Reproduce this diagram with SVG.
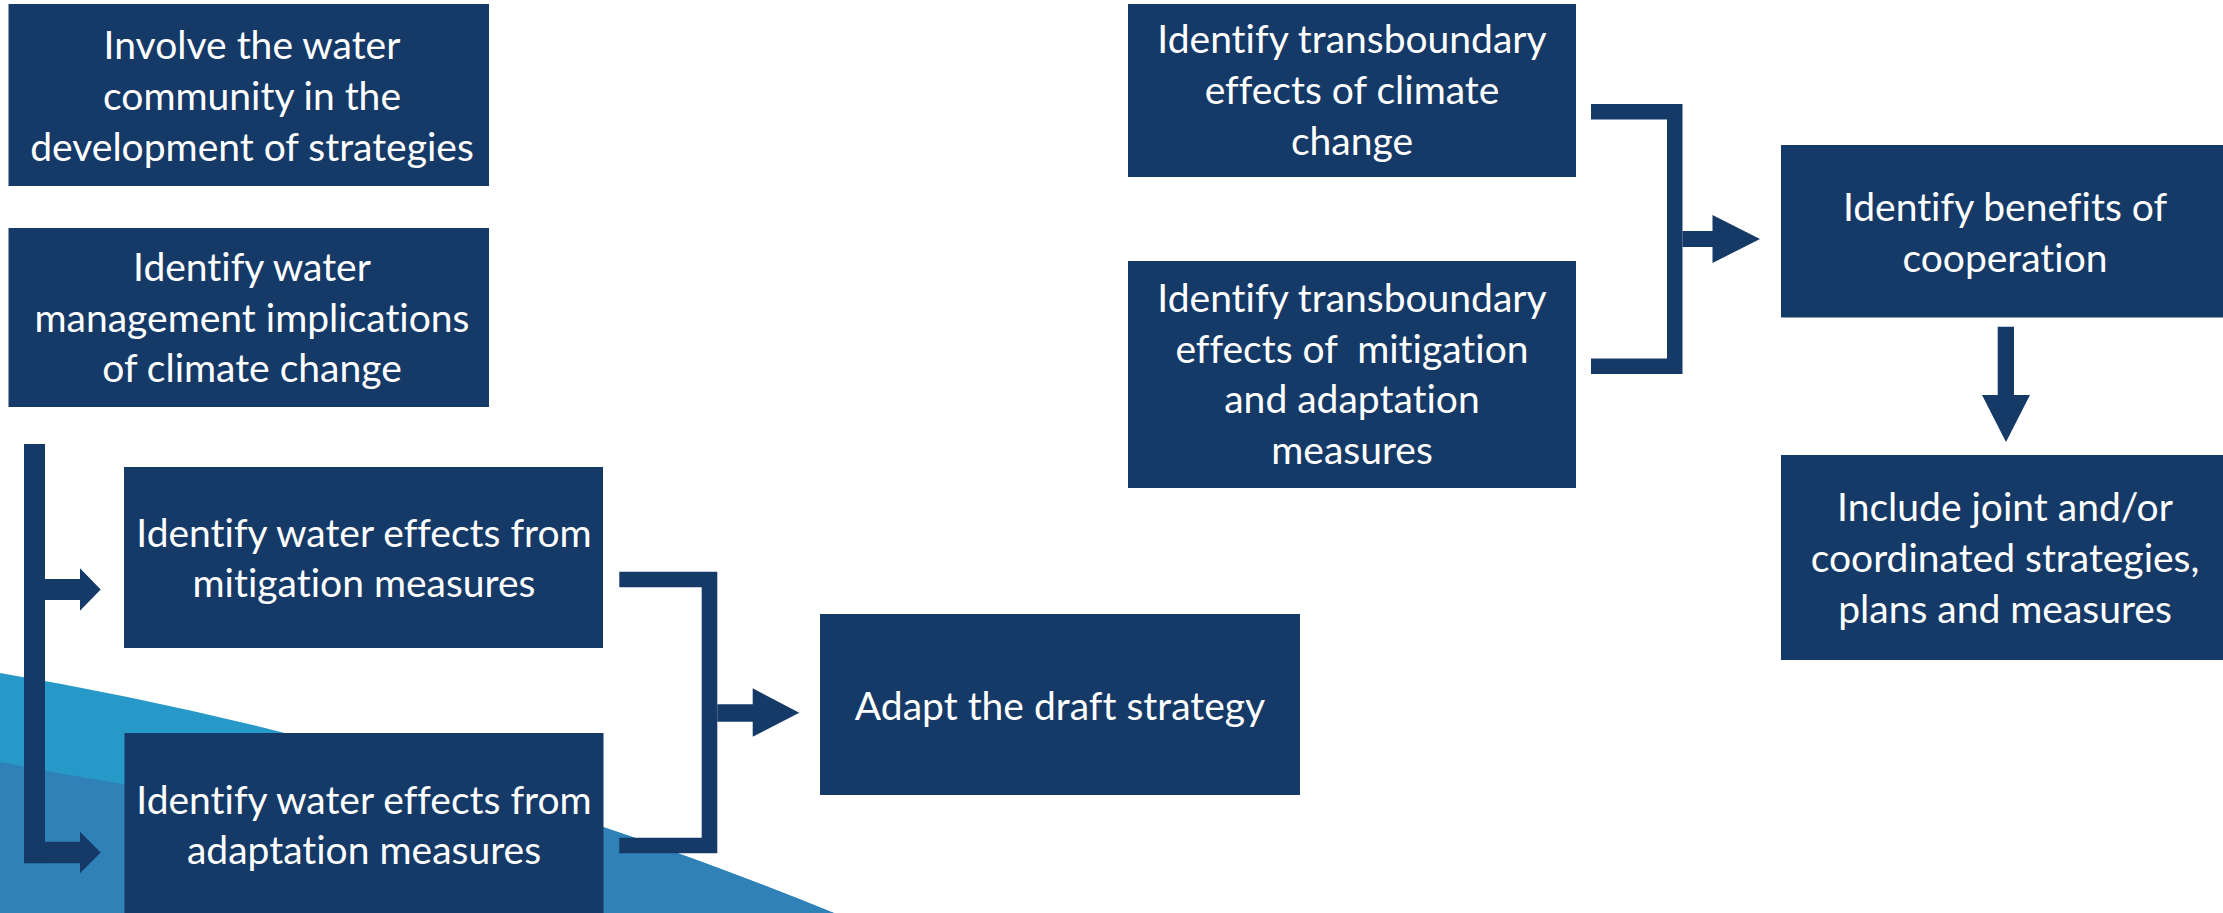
<svg xmlns="http://www.w3.org/2000/svg" width="2223" height="913" viewBox="0 0 2223 913">
  <style>
    .box { fill: #163a67; }
    .lbl { fill: #ffffff; font-family: "Lato", "Liberation Sans", sans-serif; font-size: 39px; text-anchor: middle; font-variant-ligatures: none; }
    .con { fill: #163a67; }
  </style>
  <rect x="0" y="0" width="2223" height="913" fill="#ffffff"/>
  <g id="background">
    <path d="M0,673 Q417,744 834,913 L0,913 Z" fill="#2799c8"/>
    <path d="M0,762 Q300,822 590,822.5 Q712,863.6 834,913 L0,913 Z" fill="#2f81b8"/>
  </g>
  <g id="connectors">
    <rect class="con" x="24" y="444" width="21" height="419.3"/>
    <path class="con" d="M45,579 H80 V568.3 L100.7,589.5 L80,610.7 V600 H45 Z"/>
    <path class="con" d="M45,841.7 H80 V831.7 L100.7,852.5 L80,873.3 V863.3 H45 Z"/>
    <path class="con" d="M619.3,571.7 H717.3 V853.3 H619.3 V837.7 H701.7 V587.3 H619.3 Z"/>
    <path class="con" d="M717.3,704.3 H752.7 V688.3 L799.3,712.7 L752.7,736.7 V721.7 H717.3 Z"/>
    <path class="con" d="M1591,104 H1682.5 V374 H1591 V358.5 H1667 V119.5 H1591 Z"/>
    <path class="con" d="M1682.5,231 H1712.5 V215 L1760,239 L1712.5,263 V247 H1682.5 Z"/>
    <path class="con" d="M1997.7,326.7 H2014 V395 H2030 L2006,442 L1982,395 H1997.7 Z"/>
  </g>
  <g id="node-involve">
    <rect class="box" x="8.5" y="4" width="480.5" height="182"/>
    <text class="lbl" x="252" y="59">Involve the water</text>
    <text class="lbl" x="252" y="110">community in the</text>
    <text class="lbl" x="252" y="161">development of strategies</text>
  </g>
  <g id="node-implications">
    <rect class="box" x="8.5" y="228" width="480.5" height="179"/>
    <text class="lbl" x="252" y="281">Identify water</text>
    <text class="lbl" x="252" y="332">management implications</text>
    <text class="lbl" x="252" y="382">of climate change</text>
  </g>
  <g id="node-mitigation">
    <rect class="box" x="124" y="467" width="479" height="181"/>
    <text class="lbl" x="364" y="547">Identify water effects from</text>
    <text class="lbl" x="364" y="597">mitigation measures</text>
  </g>
  <g id="node-adaptation">
    <rect class="box" x="124.5" y="733" width="479" height="185"/>
    <text class="lbl" x="364" y="814">Identify water effects from</text>
    <text class="lbl" x="364" y="864">adaptation measures</text>
  </g>
  <g id="node-adapt-draft">
    <rect class="box" x="820" y="614" width="480" height="181"/>
    <text class="lbl" x="1060" y="720">Adapt the draft strategy</text>
  </g>
  <g id="node-tb-climate">
    <rect class="box" x="1128" y="4" width="448" height="173"/>
    <text class="lbl" x="1352" y="53">Identify transboundary</text>
    <text class="lbl" x="1352" y="104">effects of climate</text>
    <text class="lbl" x="1352" y="155">change</text>
  </g>
  <g id="node-tb-measures">
    <rect class="box" x="1128" y="261" width="448" height="227"/>
    <text class="lbl" x="1352" y="312">Identify transboundary</text>
    <text class="lbl" x="1352" y="363" xml:space="preserve">effects of  mitigation</text>
    <text class="lbl" x="1352" y="413">and adaptation</text>
    <text class="lbl" x="1352" y="464">measures</text>
  </g>
  <g id="node-benefits">
    <rect class="box" x="1781" y="145" width="450" height="172.5"/>
    <text class="lbl" x="2005" y="221">Identify benefits of</text>
    <text class="lbl" x="2005" y="272">cooperation</text>
  </g>
  <g id="node-joint">
    <rect class="box" x="1781" y="455" width="450" height="205"/>
    <text class="lbl" x="2005" y="521">Include joint and/or</text>
    <text class="lbl" x="2005" y="572">coordinated strategies,</text>
    <text class="lbl" x="2005" y="623">plans and measures</text>
  </g>
</svg>
